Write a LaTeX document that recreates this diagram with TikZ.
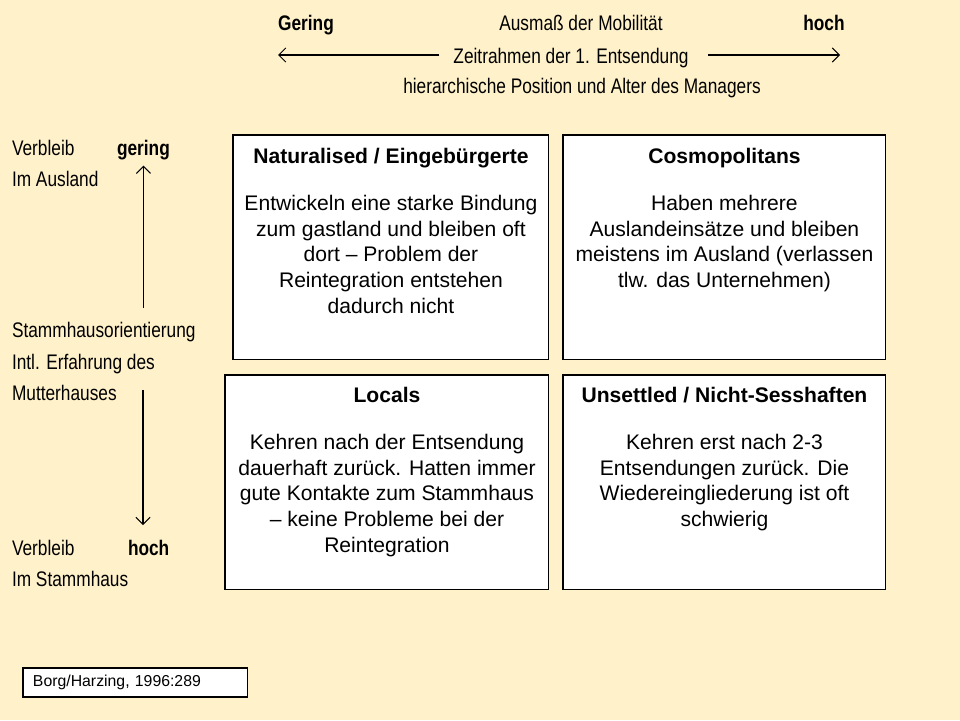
\documentclass[tikz,border=0pt]{standalone}
\usepackage{fontspec}
\setmainfont{Liberation Sans}
\newfontfamily\condfont[FakeStretch=0.82]{Liberation Sans}
\usetikzlibrary{arrows.meta, positioning}
\definecolor{cream}{HTML}{FFF2CA}

\begin{document}
\begin{tikzpicture}[
        x = 0.02cm, y = -0.02cm,
        >= {Straight Barb[length = 4pt, width = 8pt]},
        every node/.style = {inner sep = 0pt, outer sep = 0pt},
        quadrant/.style = {draw, line width = 0.6pt, fill = white, anchor = north west, minimum height = 4.5cm},
        quadtext/.style = {align = center, font = \fontsize{12}{14.6}\selectfont},
        headlabel/.style = {font = \condfont\fontsize{12}{14}\selectfont, anchor = base},
        sidelabel/.style = {font = \condfont\fontsize{12}{14}\selectfont, anchor = base west},
        axis/.style = {->, line width = 0.6pt}
    ]
      \fill[cream] (0,0) rectangle (960,720);

      % header
      \node[headlabel] (lowend) at (306,31) {\textbf{Gering}};
      \node[headlabel] (ausmass) at (581,31) {Ausmaß der Mobilität};
      \node[headlabel] (highend) at (824,31) {\textbf{hoch}};
      \node[headlabel] (zeit) at (571,63) {Zeitrahmen der 1. Entsendung};
      \node[headlabel] (hier) at (582,93) {hierarchische Position und Alter des Managers};
      \coordinate (lefttip) at (278,55);
      \coordinate (righttip) at (840,55);
      \draw[axis, shorten <= 8pt] (zeit.west |- lefttip) -- (lefttip);
      \draw[axis, shorten <= 11pt] (zeit.east |- righttip) -- (righttip);

      % left side
      \node[sidelabel] (verbA) at (12,155) {Verbleib};
      \node[sidelabel] (gering) at (117,155) {\textbf{gering}};
      \node[sidelabel] (ausland) at (12,186) {Im Ausland};
      \node[sidelabel] (stamm) at (12,337) {Stammhausorientierung};
      \node[sidelabel] (erfahrung) at (12,369) {Intl. Erfahrung des};
      \node[sidelabel] (mutter) at (12,400) {Mutterhauses};
      \node[sidelabel] (verbB) at (12,555) {Verbleib};
      \node[sidelabel] (hoch) at (128,555) {\textbf{hoch}};
      \node[sidelabel] (stammhaus) at (12,586) {Im Stammhaus};
      \coordinate (downtip) at (143,525);
      \draw[axis, shorten <= 8pt, shorten >= 3.5pt] (stamm.north -| gering.south) -- (gering.south);
      \draw[axis, shorten <= 3pt] (mutter.north -| downtip) -- (downtip);

      % quadrants
      \node[quadrant, minimum width = 6.32cm] (nat) at (233,135) {};
      \node[quadrant, minimum width = 6.46cm] (cosmo) at (563,135) {};
      \node[quadrant, minimum width = 6.48cm, minimum height = 4.3cm] (locals) at (225,375) {};
      \node[quadrant, minimum width = 6.46cm, minimum height = 4.3cm] (unsettled) at (563,375) {};

      \node[quadtext, below = 0.27cm of nat.north] (nattext) {\textbf{Naturalised / Eingebürgerte}\\[12pt]
        Entwickeln eine starke Bindung\\ zum gastland und bleiben oft\\ dort – Problem der\\
        Reintegration entstehen\\ dadurch nicht};
      \node[quadtext, below = 0.27cm of cosmo.north] (cosmotext) {\textbf{Cosmopolitans}\\[12pt]
        Haben mehrere\\ Auslandeinsätze und bleiben\\ meistens im Ausland (verlassen\\
        tlw. das Unternehmen)};
      \node[quadtext, below = 0.25cm of locals.north] (localstext) {\textbf{Locals}\\[12pt]
        Kehren nach der Entsendung\\ dauerhaft zurück. Hatten immer\\ gute Kontakte zum Stammhaus\\
        – keine Probleme bei der\\ Reintegration};
      \node[quadtext, below = 0.25cm of unsettled.north] (unsettledtext) {\textbf{Unsettled / Nicht-Sesshaften}\\[12pt]
        Kehren erst nach 2-3\\ Entsendungen zurück. Die\\ Wiedereingliederung ist oft\\ schwierig};

      % source
      \node[draw, line width = 0.6pt, fill = white, anchor = north west, minimum height = 0.58cm,
            text width = 4.1cm, inner xsep = 0.2cm, align = left, font = \fontsize{9}{11}\selectfont]
            (source) at (23,668) {Borg/Harzing, 1996:289};
    \end{tikzpicture}
\end{document}
